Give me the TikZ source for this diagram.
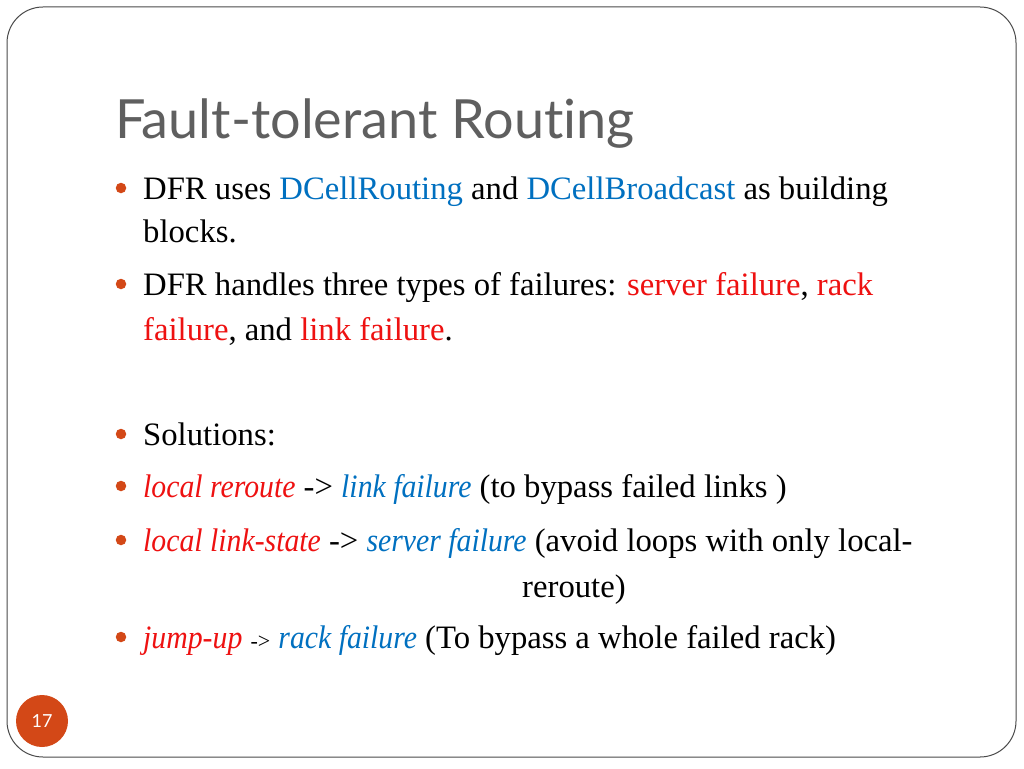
\documentclass[tikz,border=0pt]{standalone}
\usepackage{fontspec}
\usepackage{graphicx}
\setmainfont{Liberation Serif}
\newfontfamily\titlefont[Ligatures=NoCommon]{Lato}
\definecolor{orng}{HTML}{D34817}
\definecolor{ttl}{HTML}{5F5F5F}
\definecolor{blu}{HTML}{0070C0}
\definecolor{rd}{HTML}{EE1111}
\definecolor{frame}{HTML}{4A4A4A}
\newcommand{\bl}[1]{\textcolor{blu}{#1}}
\newcommand{\rdd}[1]{\textcolor{rd}{#1}}
\newcommand{\itx}[1]{\scalebox{0.91}[1]{\itshape #1}}
\begin{document}
\begin{tikzpicture}[x=1pt,y=-1pt,
  txt/.style={anchor=base west, inner sep=0pt, font=\fontsize{32.7}{36}\selectfont},
  bul/.style={circle, fill=orng, inner sep=0pt, minimum size=10.5pt}]
\fill[white] (0,0) rectangle (1024,768);
\useasboundingbox (0,0) rectangle (1024,768);
\draw[frame, line width=1pt, rounded corners=36pt] (7,7) rectangle (1016,757);
\node[anchor=base west, inner sep=0pt, text=ttl, font=\titlefont\fontsize{54}{60}\selectfont] (title) at (115,138) {Fault-tolerant Routing};
% bullets
\node[bul] (b1) at (121,188) {};
\node[bul] (b2) at (121,284) {};
\node[bul] (b3) at (121,434) {};
\node[bul] (b4) at (121,486) {};
\node[bul] (b5) at (121,540) {};
\node[bul] (b6) at (121,637) {};
% lines
\node[txt] (l1) at (143,199) {DFR uses \bl{DCellRouting} and \bl{DCellBroadcast} as building};
\node[txt] (l2) at (143,242) {blocks.};
\node[txt] (l3) at (143,295) {DFR handles three types of failures: \rdd{server failure}, \rdd{rack}};
\node[txt] (l4) at (143,340) {\rdd{failure}, and \rdd{link failure}.};
\node[txt] (l5) at (143,445) {Solutions:};
\node[txt] (l6) at (143,497) {\rdd{\itx{local reroute}} -> \bl{\itx{link failure}} (to bypass failed links )};
\node[txt] (l7) at (143,551) {\rdd{\itx{local link-state}} -> \bl{\itx{server failure}} (avoid loops with only local-};
\node[txt] (l8) at (522,597) {reroute)};
\node[txt] (l9) at (143,648) {\rdd{\itx{jump-up}} {\fontsize{22}{24}\selectfont ->} \bl{\itx{rack failure}} (To bypass a whole failed rack)};
% page number
\node[circle, fill=orng, minimum size=52pt, inner sep=0pt, text=white, font=\titlefont\fontsize{18}{20}\selectfont] (pg) at (42,721) {17};
\end{tikzpicture}
\end{document}
